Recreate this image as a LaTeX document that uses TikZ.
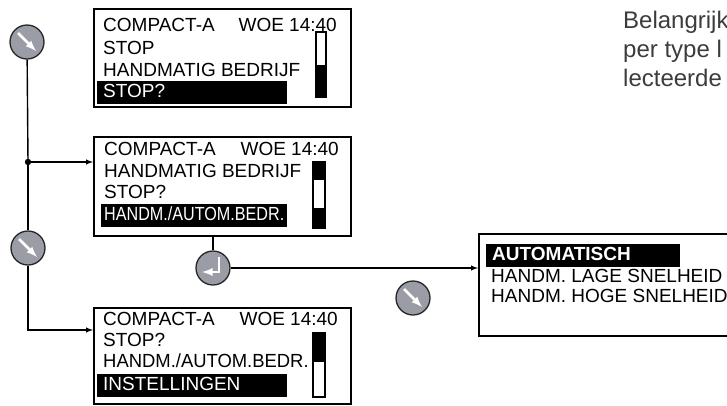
\documentclass[tikz,border=0pt]{standalone}
\usepackage{fontspec}
\setmainfont{Liberation Sans}
\usetikzlibrary{calc, positioning}
\definecolor{navgray}{RGB}{155,157,166}
\definecolor{notegray}{RGB}{60,60,60}

\tikzset{
  screen/.style={draw, line width=1.6pt, anchor=north west, inner sep=0pt},
  ln/.style={anchor=base west, inner sep=0pt, font=\fontsize{19}{22}\selectfont},
  lnr/.style={ln, anchor=base east},
  sel/.style={ln, fill=black, text=white, inner xsep=6pt, inner ysep=2.75pt,
    text height=13.5pt, text depth=4pt, align=left},
  sbar/.style={draw, line width=1.3pt},
  wire/.style={line width=1.4pt},
  icon/.style={circle, draw=black!85, fill=navgray, line width=1.3pt, minimum size=34pt, inner sep=0pt},
  glyph/.style={white, line width=2.6pt},
  hinttext/.style={anchor=base west, inner sep=0pt, text=notegray, font=\fontsize{24}{28}\selectfont}
}

\begin{document}
\begin{tikzpicture}[>=latex, x=1pt, y=-1pt]
  \useasboundingbox (0,0) rectangle (727,405);

  \node [screen, minimum width=257, minimum height=98] (scr1) at (93,8) {};
  \node [ln] (s1a) at (103,31) {COMPACT-A};
  \node [lnr] (s1b) at (337,31) {WOE 14:40};
  \node [ln] (s1c) at (103,54) {STOP};
  \node [ln] (s1d) at (103,76) {HANDMATIG BEDRIJF};
  \node [sel, text width=178pt] (s1e) at (97,97) {STOP?};
  \draw [sbar] (316,32) rectangle (326,97);
  \fill (316,65) rectangle (326,97);

  \node [screen, minimum width=257, minimum height=99] (scr2) at (93,136) {};
  \node [ln] (s2a) at (104,155) {COMPACT-A};
  \node [lnr] (s2b) at (339,155) {WOE 14:40};
  \node [ln] (s2c) at (104,177) {HANDMATIG BEDRIJF};
  \node [ln] (s2d) at (104,198) {STOP?};
  \node [sel, inner xsep=3pt] (s2e) at (101,220) {\scalebox{0.85}[1]{HANDM./AUTOM.BEDR.}};
  \draw [sbar] (313,162) rectangle (325,228);
  \fill (313,162) rectangle (325,180);
  \fill (313,208) rectangle (325,228);

  \node [screen, minimum width=257, minimum height=96] (scr3) at (93,307) {};
  \node [ln] (s3a) at (103,325) {COMPACT-A};
  \node [lnr] (s3b) at (338,325) {WOE 14:40};
  \node [ln] (s3c) at (103,346) {STOP?};
  \node [ln] (s3d) at (103,367) {\scalebox{0.97}[1]{HANDM./AUTOM.BEDR.}};
  \node [sel, text width=178pt] (s3e) at (97,390) {INSTELLINGEN};
  \draw [sbar] (313,333) rectangle (325,397);
  \fill (313,333) rectangle (325,362);

  \node [screen, minimum width=270, minimum height=102] (scr4) at (478,233) {};
  \node [sel, text width=182pt, font=\fontsize{19}{22}\selectfont\bfseries] (s4a) at (486,260) {AUTOMATISCH};
  \node [ln] (s4b) at (491,282) {HANDM. LAGE SNELHEID};
  \node [ln] (s4c) at (491,302) {HANDM. HOGE SNELHEID};

  \node [icon] (nav1) at (27,42) {};
  \node [icon] (nav2) at (28,248) {};
  \node [icon] (nav3) at (413,298) {};
  \node [icon] (ok1) at (213,268) {};
  \foreach \n in {nav1, nav2, nav3}
    \draw [glyph, ->] ($(\n)+(-9,-9)$) -- ($(\n)+(9,9)$);
  \draw [glyph, ->] ($(ok1)+(6,-11)$) -- ($(ok1)+(6,4)$) -- ($(ok1)+(-11,4)$);

  \fill (28,162) circle [radius=3.2] coordinate (jn);
  \coordinate (in3) at (93,330);

  \draw [wire] (nav1) -- (jn);
  \draw [wire, ->] (jn) -- (jn -| scr2.west);
  \draw [wire] (jn) -- (nav2);
  \draw [wire, ->] (nav2) |- (in3);
  \draw [wire] (ok1 |- scr2.south) -- (ok1);
  \draw [wire, ->] (ok1) -- (ok1 -| scr4.west);

  \node [hinttext] (hint1) at (623,28) {Belangrijk};
  \node [hinttext] (hint2) at (623,57) {per type l};
  \node [hinttext] (hint3) at (623,86) {lecteerde};
\end{tikzpicture}
\end{document}
